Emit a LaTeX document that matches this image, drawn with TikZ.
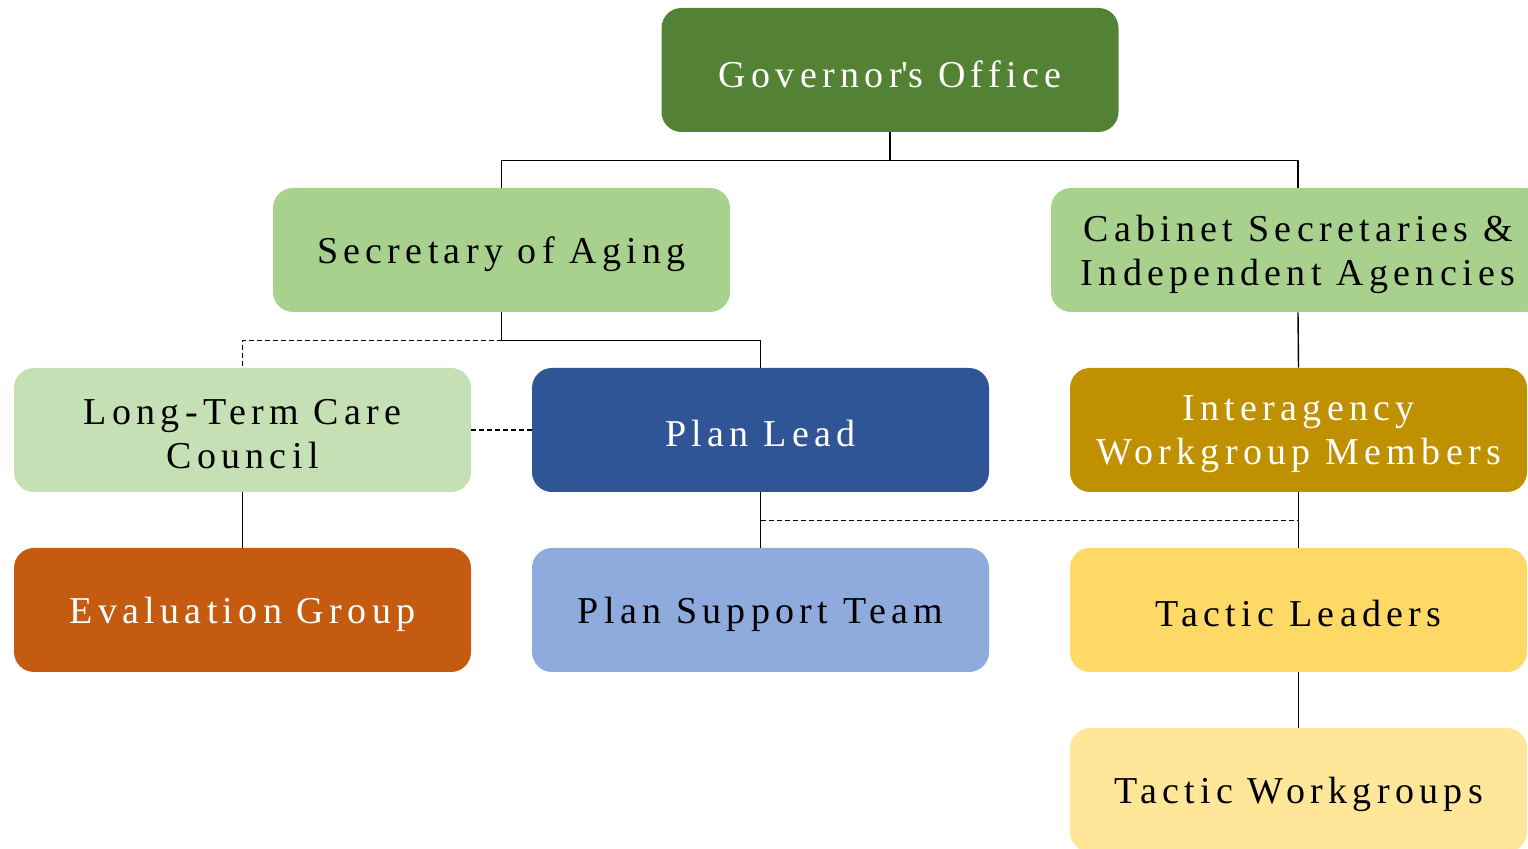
\documentclass[tikz,border=0pt]{standalone}
\usepackage{fontspec}
\setmainfont{Liberation Serif}[LetterSpace=14]
\usetikzlibrary{calc}
\definecolor{cGov}{HTML}{548235}
\definecolor{cSec}{HTML}{A9D18E}
\definecolor{cLtc}{HTML}{C5E0B4}
\definecolor{cPlan}{HTML}{2F5597}
\definecolor{cInter}{HTML}{BF9000}
\definecolor{cEval}{HTML}{C55A11}
\definecolor{cSup}{HTML}{8FAADC}
\definecolor{cTl}{HTML}{FFD966}
\definecolor{cTw}{HTML}{FFE699}
\begin{document}
\begin{tikzpicture}[x=0.5pt,y=-0.5pt,
  box/.style={rounded corners=10pt, minimum width=228.5pt, minimum height=62pt,
    inner sep=0pt},
  lbl/.style={align=center, inner sep=0pt, yshift=-2pt, font=\fontsize{19pt}{22pt}\selectfont},
  wtext/.style={text=white},
  conn/.style={line width=0.7pt, black},
  dconn/.style={line width=0.6pt, black, dash pattern=on 2.5pt off 1.5pt}]
\useasboundingbox (0,0) rectangle (1528,849);
\clip (0,0) rectangle (1528,849);
\node[box, fill=cGov, label={[lbl,wtext]center:{Governor\textquotesingle s Office}}] (gov) at (890,70) {};
\node[box, fill=cSec, label={[lbl]center:{Secretary of Aging}}] (sec) at (501.5,250) {};
\node[box, fill=cSec, minimum width=247pt, label={[lbl]center:{Cabinet Secretaries \&\\Independent Agencies}}] (cab) at (1298,250) {};
\node[box, fill=cLtc, label={[lbl]center:{Long-Term Care\\Council}}] (ltc) at (242.5,430) {};
\node[box, fill=cPlan, label={[lbl,wtext]center:{Plan Lead}}] (plan) at (760.5,430) {};
\node[box, fill=cInter, label={[lbl,wtext]center:{Interagency\\Workgroup Members}}] (inter) at (1298.5,430) {};
\node[box, fill=cEval, label={[lbl,wtext]center:{Evaluation Group}}] (eval) at (242.5,610) {};
\node[box, fill=cSup, label={[lbl]center:{Plan Support Team}}] (sup) at (760.5,610) {};
\node[box, fill=cTl, label={[lbl]center:{Tactic Leaders}}] (tl) at (1298.5,610) {};
\node[box, fill=cTw, label={[lbl]center:{Tactic Workgroups}}] (tw) at (1298.5,790) {};
\coordinate (g1) at ($(gov.south)+(0,28)$);
\coordinate (s1) at ($(sec.south)+(0,28)$);
\coordinate (p1) at ($(plan.south)+(0,28)$);
\coordinate (i1) at ($(inter.south)+(0,28)$);
\draw[conn] (gov.south) -- (g1) -| (sec.north);
\draw[conn] (g1) -| (cab.north);
\draw[conn] (sec.south) -- (s1) -| (plan.north);
\draw[dconn] (s1) -| (ltc.north);
\draw[dconn] (ltc.east) -- (plan.west);
\draw[conn] (cab.south) -- (inter.north);
\draw[conn] (ltc.south) -- (eval.north);
\draw[conn] (plan.south) -- (sup.north);
\draw[conn] (inter.south) -- (tl.north);
\draw[dconn] (p1) -- (i1);
\draw[conn] (tl.south) -- (tw.north);
\end{tikzpicture}
\end{document}
